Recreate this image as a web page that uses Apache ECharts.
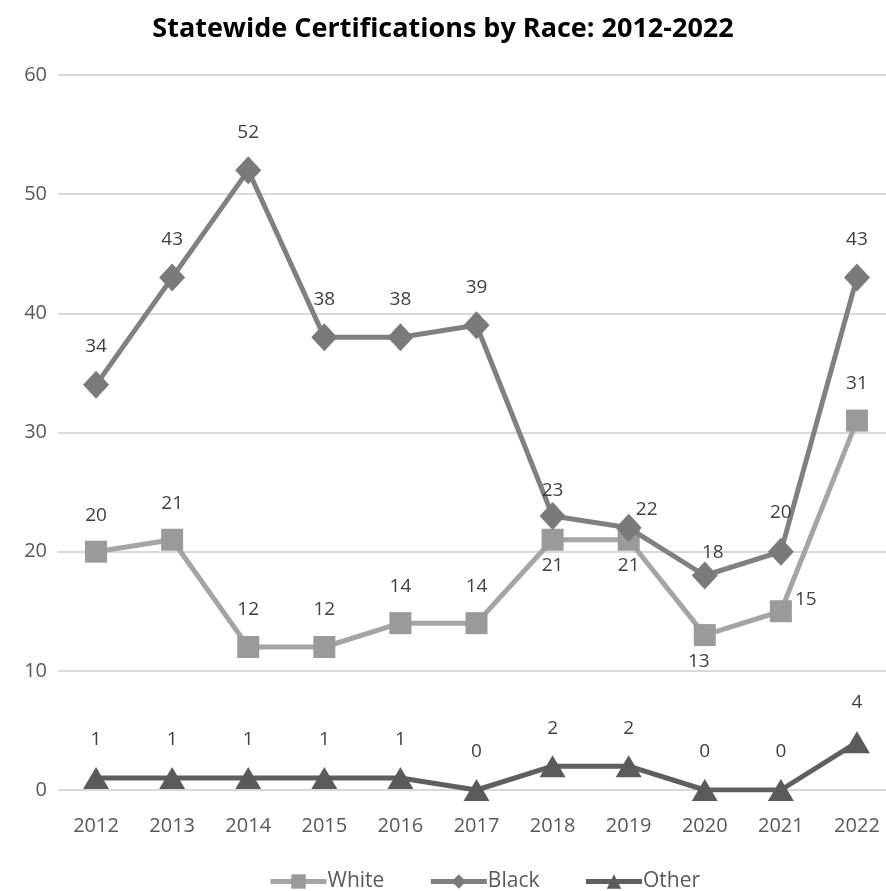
<!DOCTYPE html>
<html><head><meta charset="utf-8">
<script src="https://cdn.jsdelivr.net/npm/echarts@6/dist/echarts.min.js"></script>
<style>html,body{margin:0;padding:0;background:#fff}#c{width:886px;height:891px}</style>
</head><body><div id="c"></div>
<script>
const years = ['2012','2013','2014','2015','2016','2017','2018','2019','2020','2021','2022'];
const white = [20,21,12,12,14,14,21,21,13,15,31];
const black = [34,43,52,38,38,39,23,22,18,20,43];
const other = [1,1,1,1,1,0,2,2,0,0,4];
// label offsets (dx, dy) relative to the marker
const whiteOff = [[0,-36],[0,-36],[0,-37],[0,-37],[0,-37],[0,-37],[0,26],[0,26],[-6,27],[25,-12],[0,-37]];
const blackOff = [[0,-38],[0,-38],[0,-38],[0,-38],[0,-38],[0,-38],[0,-25],[18,-18],[8,-23],[0,-39],[0,-38]];
const otherOff = [[0,-38],[0,-38],[0,-38],[0,-38],[0,-38],[0,-38],[0,-38],[0,-38],[0,-38],[0,-38],[0,-40]];

const font = '"Open Sans", "Noto Sans", sans-serif';
const lbl = {show:true, position:'inside', fontSize:19, color:'#404040', fontFamily:font};
function mk(vals, off){
  return vals.map((v,i)=>({value:v, label:{offset:off[i]}}));
}
const chart = echarts.init(document.getElementById('c'));
chart.setOption({
  animation:false,
  title:{text:'Statewide Certifications by Race: 2012-2022', left:'center', top:11,
    textStyle:{fontSize:27, fontWeight:'bold', color:'#000', fontFamily:font}},
  grid:{left:58, width:837, top:75, bottom:101, outerBoundsMode:'none', containLabel:false},
  xAxis:{type:'category', data:years, boundaryGap:true,
    axisLine:{show:false}, axisTick:{show:false},
    axisLabel:{fontSize:20, color:'#595959', fontFamily:font, margin:26}},
  yAxis:{type:'value', min:0, max:60, interval:10,
    axisLabel:{fontSize:20, color:'#595959', fontFamily:font, margin:11},
    splitLine:{lineStyle:{color:'#d9d9d9', width:2}}},
  legend:{left:263, top:866, itemWidth:56, itemHeight:18, itemGap:44,
    lineStyle:{width:5},
    textStyle:{fontSize:21, color:'#595959', fontFamily:font, padding:[0,0,0,-4]},
    data:['White','Black','Other']},
  series:[
    {name:'White', type:'line', data:mk(white, whiteOff), symbol:'rect', symbolSize:22,
      lineStyle:{color:'#A5A5A5', width:5}, itemStyle:{color:'#9a9a9a'}, label:lbl, z:3},
    {name:'Black', type:'line', data:mk(black, blackOff), symbol:'diamond', symbolSize:[26,28],
      lineStyle:{color:'#808080', width:5}, itemStyle:{color:'#7a7a7a'}, label:lbl, z:4},
    {name:'Other', type:'line', data:mk(other, otherOff), symbol:'triangle', symbolSize:[26,22],
      lineStyle:{color:'#5f5f5f', width:5}, itemStyle:{color:'#5a5a5a'}, label:lbl, z:5}
  ]
});
</script></body></html>
